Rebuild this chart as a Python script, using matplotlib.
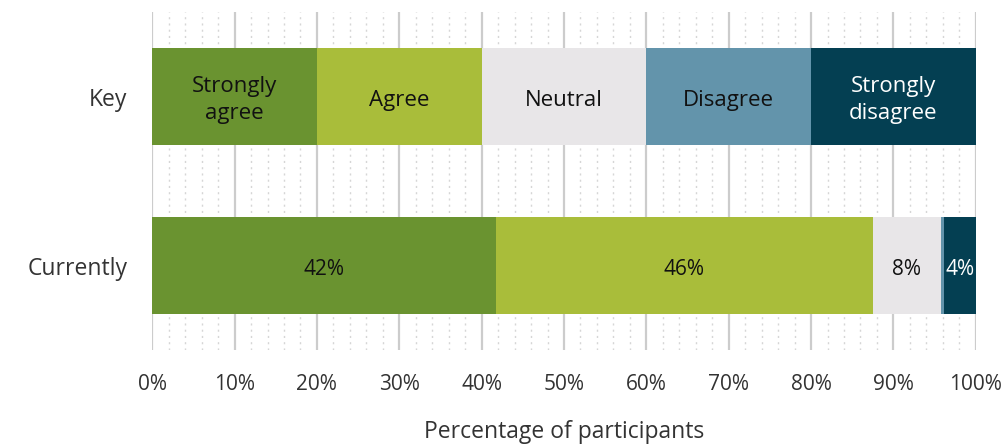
import matplotlib.pyplot as plt
from matplotlib.ticker import MultipleLocator, PercentFormatter

rows = ["Key", "Currently"]
categories = ["Strongly agree", "Agree", "Neutral", "Disagree", "Strongly disagree"]
key_labels = ["Strongly\nagree", "Agree", "Neutral", "Disagree", "Strongly\ndisagree"]
key_values = [20, 20, 20, 20, 20]
current_values = [41.7, 45.8, 8.3, 0.4, 3.8]

colors = ["#6a9330", "#a9bd3a", "#e8e6e8", "#6394ab", "#043f52"]
text_colors = ["#111111", "#111111", "#111111", "#111111", "#ffffff"]

plt.rcParams['font.family'] = ['Open Sans', 'DejaVu Sans']

fig = plt.figure(figsize=(10.08, 4.46), dpi=100)
ax = fig.add_axes([0.151, 0.215, 0.817, 0.758])

# grid first so bars sit on top
ax.xaxis.set_major_locator(MultipleLocator(10))
ax.xaxis.set_minor_locator(MultipleLocator(2))
ax.grid(which='major', axis='x', color='#cccccc', linewidth=1.6, zorder=0)
ax.grid(which='minor', axis='x', color='#d6d6d6', linewidth=1.0,
        linestyle=(0, (1.5, 3)), zorder=0)
ax.set_axisbelow(True)

bar_h = 0.575
nudge = 0.022  # labels sit a touch below the bar centre
for row, values in enumerate([key_values, current_values]):
    left = 0
    for i, v in enumerate(values):
        ax.barh(row, v, left=left, height=bar_h, color=colors[i], zorder=2)
        cx = left + v / 2
        if row == 0:
            ax.text(cx, row + nudge, key_labels[i], ha='center', va='center',
                    fontsize=16, color=text_colors[i], linespacing=1.4, zorder=3)
        elif v >= 1:
            ax.text(cx, row + nudge, f"{round(v)}%", ha='center', va='center',
                    fontsize=15, color=text_colors[i], zorder=3)
        left += v

ax.set_xlim(0, 100)
ax.set_ylim(1.5, -0.5)
ax.set_yticks(range(len(rows)))
ax.set_yticklabels(rows, fontsize=16.5, color='#333333')
ax.xaxis.set_major_formatter(PercentFormatter(decimals=0))
ax.tick_params(axis='x', which='both', length=0, labelsize=15,
               labelcolor='#333333', pad=17)
ax.tick_params(axis='y', length=0, pad=18)
ax.set_xlabel("Percentage of participants", fontsize=16.5, color='#333333',
              labelpad=18)
for s in ax.spines.values():
    s.set_visible(False)

fig.savefig("out.png", dpi=100)
